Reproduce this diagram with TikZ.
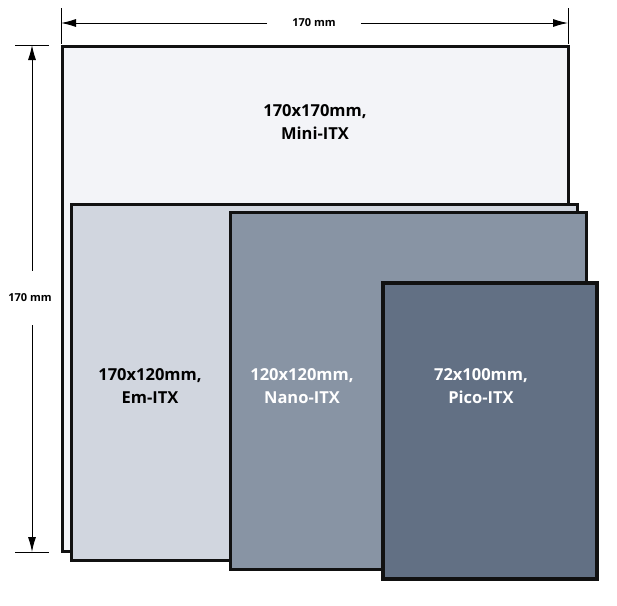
\documentclass[tikz,border=0pt]{standalone}
\usepackage{fontspec}
\setmainfont{Open Sans}
\usetikzlibrary{arrows.meta,positioning}
\definecolor{miniFill}{HTML}{F3F4F8}
\definecolor{emFill}{HTML}{D1D6DF}
\definecolor{nanoFill}{HTML}{8894A4}
\definecolor{picoFill}{HTML}{627084}
\definecolor{edge}{HTML}{111111}
\begin{document}
\begin{tikzpicture}[x=1pt, y=-1pt,
    board/.style={draw=edge, line width=3pt},
    boardlabel/.style={align=center, font=\bfseries\fontsize{16.5}{23}\selectfont},
    dimlabel/.style={font=\bfseries\fontsize{11}{12}\selectfont, inner sep=0pt},
    dimline/.style={line width=0.9pt, -{Latex[length=15pt, width=8pt]}},
    tick/.style={line width=0.9pt}]
    \useasboundingbox (0,0) rectangle (617,605);
    % boards, largest first
    \draw[board, fill=miniFill] (62,46) rectangle (568,551);
    \draw[board, fill=emFill] (71,204) rectangle (577,560);
    \draw[board, fill=nanoFill] (230,212) rectangle (586,569);
    \draw[board, fill=picoFill, line width=3.4pt] (383,283) rectangle (597,579);
    % labels
    \node[boardlabel] (mini) at (315,122) {170x170mm,\\Mini-ITX};
    \node[boardlabel] (em) at (150,386) {170x120mm,\\Em-ITX};
    \node[boardlabel, white] (nano) at (302,386) {120x120mm,\\Nano-ITX};
    \node[boardlabel, white] (pico) at (481,386) {72x100mm,\\Pico-ITX};
    % width dimension
    \coordinate (wl) at (61,23);
    \coordinate (wr) at (568,23);
    \draw[tick] (61,8) -- (61,44);
    \draw[tick] (568,8) -- (568,44);
    \node[dimlabel, inner xsep=25pt] (width) at (314,23) {170 mm};
    \draw[dimline] (width.west) -- (wl);
    \draw[dimline] (width.east) -- (wr);
    % height dimension
    \coordinate (ht) at (32,45);
    \coordinate (hb) at (32,552);
    \draw[tick] (15,45) -- (49,45);
    \draw[tick] (15,552) -- (49,552);
    \node[dimlabel, inner ysep=23pt] (height) at (30,298) {170 mm};
    \draw[dimline] (height.north -| ht) -- (ht);
    \draw[dimline] (height.south -| hb) -- (hb);
\end{tikzpicture}
\end{document}
